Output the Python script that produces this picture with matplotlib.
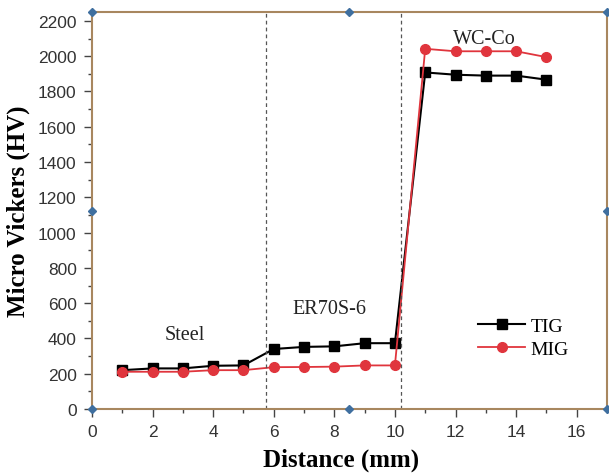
import numpy as np
import matplotlib
matplotlib.use("Agg")
import matplotlib.pyplot as plt
from matplotlib.ticker import MultipleLocator

# hardness profile
distance = [1, 2, 3, 4, 5, 6, 7, 8, 9, 10, 11, 12, 13, 14, 15]
tig = [220, 230, 230, 245, 247, 340, 352, 355, 373, 373, 1908, 1895, 1890, 1890, 1867]
mig = [211, 211, 211, 220, 220, 237, 238, 240, 247, 247, 2042, 2028, 2028, 2028, 1995]

zone_edges = [5.75, 10.2]
zone_names = ["Steel", "ER70S-6", "WC-Co"]
zone_label_x = [3.05, 7.85, 12.95]
zone_label_y = [420, 570, 2100]

frame_col = "#a8875f"
serif = "Liberation Serif"
sans = "Liberation Sans"

fig = plt.figure(figsize=(6.09, 4.77), dpi=100)
ax = fig.add_axes([0.151, 0.1405, 0.8457, 0.832])

ax.plot(distance, tig, color="black", marker="s", markersize=7, lw=1.5, label="TIG")
ax.plot(distance, mig, color="#e0353d", marker="o", markersize=7, lw=1.3, label="MIG")

for xe in zone_edges:
    ax.axvline(xe, color="#555555", ls=(0, (3, 2.5)), lw=0.9)

for name, lx, ly in zip(zone_names, zone_label_x, zone_label_y):
    ax.text(lx, ly, name, ha="center", va="center", fontsize=14.5,
            family=serif, color="#222222")

ax.set_xlim(0, 17)
ax.set_ylim(0, 2250)
ax.set_xticks(np.arange(0, 17, 2))
ax.set_yticks(np.arange(0, 2201, 200))
ax.xaxis.set_minor_locator(MultipleLocator(1))
ax.yaxis.set_minor_locator(MultipleLocator(100))

for s in ax.spines.values():
    s.set_color(frame_col)
    s.set_linewidth(1.5)

ax.tick_params(which="both", top=False, right=False, direction="out",
               color="#444444", width=1.0)
ax.tick_params(which="major", length=6, labelsize=12.5, labelcolor="#333333", pad=5)
ax.tick_params(which="minor", length=3)
for lab in ax.get_xticklabels() + ax.get_yticklabels():
    lab.set_family(sans)

ax.set_xlabel("Distance (mm)", fontsize=18, fontweight="bold", family=serif)
ax.set_ylabel("Micro Vickers (HV)", fontsize=18, fontweight="bold", family=serif, labelpad=6)
ax.xaxis.set_label_coords(0.484, -0.098)

leg = ax.legend(loc="upper left", bbox_to_anchor=(0.735, 0.25), frameon=False,
                prop={"family": serif, "size": 14}, handlelength=2.4,
                handletextpad=0.3, labelspacing=0.25, borderaxespad=0)

# selection handles drawn by the plotting program
hx = [0, 0.5, 1, 0, 1, 0, 0.5, 1]
hy = [0, 0, 0, 0.5, 0.5, 1, 1, 1]
ax.plot(hx, hy, ls="none", marker="D", markersize=4, color="#3f6f9f",
        transform=ax.transAxes, clip_on=False, zorder=5)

fig.savefig("out.png", dpi=100)
